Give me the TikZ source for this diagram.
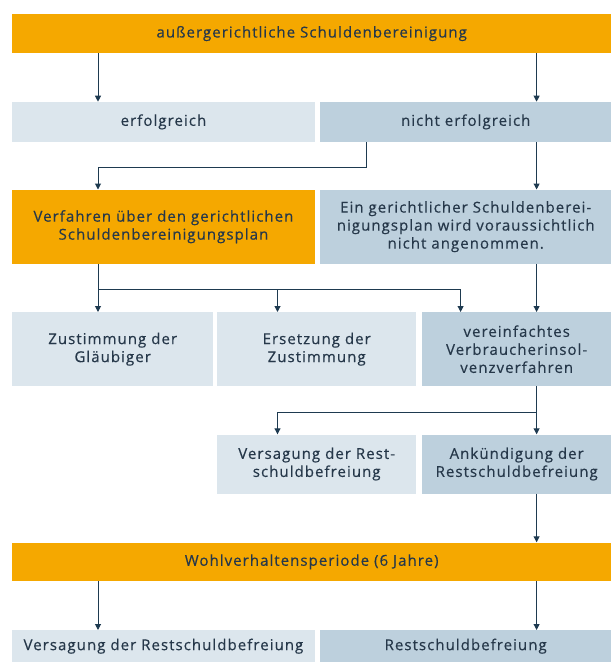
\documentclass[tikz,border=0pt]{standalone}
\usepackage{fontspec}
\setmainfont[LetterSpace=7,FakeBold=0.4]{Open Sans}
\usetikzlibrary{arrows.meta}
\definecolor{orangeB}{HTML}{F5A800}
\definecolor{lightB}{HTML}{DCE6ED}
\definecolor{darkB}{HTML}{BDD0DD}
\definecolor{lineC}{HTML}{1E3A50}
\definecolor{txtC}{HTML}{26384A}
\begin{document}
\begin{tikzpicture}[x=1pt,y=-1pt,
  box/.style={anchor=north west, inner sep=0pt, align=center, text=txtC,
    font=\fontsize{15}{18}\selectfont},
  orangebox/.style={box, fill=orangeB},
  lightbox/.style={box, fill=lightB},
  darkbox/.style={box, fill=darkB},
  arr/.style={draw=lineC, line width=1pt, -{Triangle[length=6pt,width=6pt]}}]
\useasboundingbox (0,0) rectangle (611,662);
\fill[white] (0,0) rectangle (611,662);
% column coordinates
\coordinate (xL) at (98,0);
\coordinate (xM) at (277.5,0);
\coordinate (xR) at (460.6,0);
\coordinate (xRR) at (536.6,0);
\coordinate (b1) at (366,167.7);
\coordinate (b2) at (98,289.3);
\coordinate (b3) at (536.6,412);
% nodes
\node[orangebox, minimum width=599pt, minimum height=38.7pt] (top) at (12,14) {außergerichtliche Schuldenbereinigung};
\node[lightbox, minimum width=302.5pt, minimum height=40pt] (erf) at (12,101.7) {erfolgreich};
\node[darkbox, minimum width=291pt, minimum height=40pt] (nerf) at (320,101.7) {nicht erfolgreich};
\node[orangebox, minimum width=302.5pt, minimum height=74pt] (verf) at (12,189.5) {Verfahren über den gerichtlichen\\Schuldenbereinigungsplan};
\node[darkbox, minimum width=291pt, minimum height=74pt] (gsp) at (320,189.5) {Ein gerichtlicher Schuldenberei-\\nigungsplan wird voraussichtlich\\nicht angenommen.};
\node[lightbox, minimum width=201pt, minimum height=74pt] (zust) at (12,312) {Zustimmung der\\Gläubiger};
\node[lightbox, minimum width=199pt, minimum height=74pt] (ers) at (217,312) {Ersetzung der\\Zustimmung};
\node[darkbox, minimum width=189pt, minimum height=74pt] (vvi) at (422,312) {vereinfachtes\\Verbraucherinsol-\\venzverfahren};
\node[lightbox, minimum width=199pt, minimum height=59pt] (vers1) at (217,434.3) {Versagung der Rest-\\schuldbefreiung};
\node[darkbox, minimum width=189pt, minimum height=59pt] (ank) at (422,434.3) {Ankündigung der\\Restschuldbefreiung};
\node[orangebox, minimum width=599pt, minimum height=38.7pt] (wohl) at (12,542.3) {Wohlverhaltensperiode (6 Jahre)};
\node[lightbox, minimum width=302.5pt, minimum height=32pt] (vers2) at (12,630) {\raisebox{-4pt}{Versagung der Restschuldbefreiung}};
\node[darkbox, minimum width=291pt, minimum height=32pt] (rsb) at (320,630) {\raisebox{-4pt}{Restschuldbefreiung}};
% connectors
\draw[arr] (top.south -| xL) -- (erf.north -| xL);
\draw[arr] (top.south -| xRR) -- (nerf.north -| xRR);
\draw[arr] (nerf.south -| b1) -- (b1) -| (verf.north -| xL);
\draw[arr] (nerf.south -| xRR) -- (gsp.north -| xRR);
\draw[arr] (verf.south -| xL) -- (zust.north -| xL);
\draw[arr] (b2) -| (vvi.north -| xR);
\draw[arr] (b2 -| xM) -- (ers.north -| xM);
\draw[arr] (gsp.south -| xRR) -- (vvi.north -| xRR);
\draw[arr] (vvi.south -| xRR) -- (ank.north -| xRR);
\draw[arr] (b3) -| (vers1.north -| xM);
\draw[arr] (ank.south -| xRR) -- (wohl.north -| xRR);
\draw[arr] (wohl.south -| xL) -- (vers2.north -| xL);
\draw[arr] (wohl.south -| xRR) -- (rsb.north -| xRR);
\end{tikzpicture}
\end{document}
